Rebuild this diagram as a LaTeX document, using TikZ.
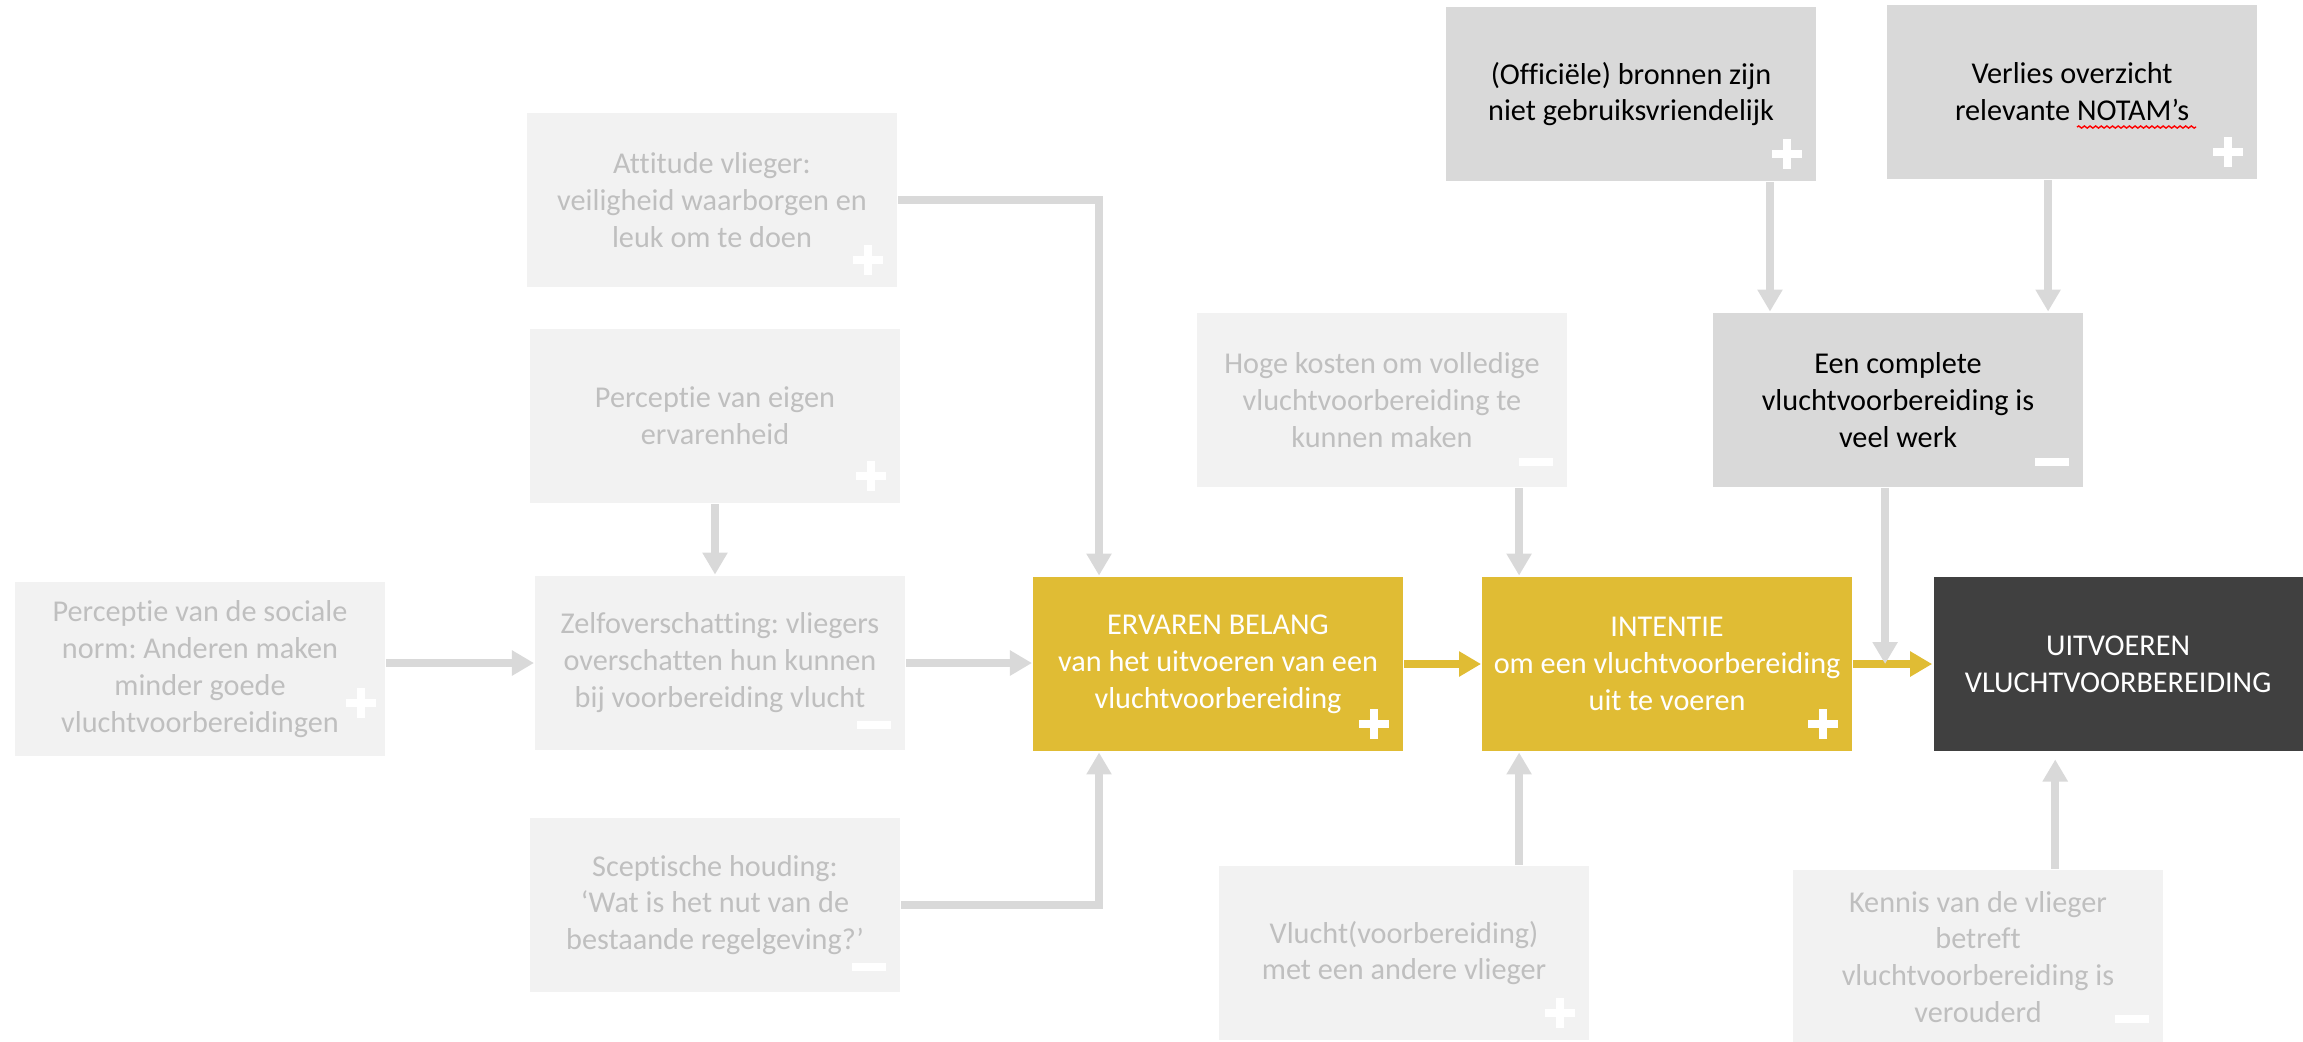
\documentclass[tikz,border=0pt]{standalone}
\usepackage{fontspec}
\setmainfont{Carlito}[Ligatures={TeX,NoCommon}]
\usetikzlibrary{arrows.meta, positioning, decorations.pathmorphing}
\frenchspacing

\definecolor{boxlight}{HTML}{F2F2F2}
\definecolor{textlight}{HTML}{BFBFBF}
\definecolor{boxgrey}{HTML}{D9D9D9}
\definecolor{gold}{HTML}{E0BC34}
\definecolor{darkbox}{HTML}{404040}

% white + and - marks in the lower right corner of a box
\newcommand{\plusmark}[2][-30,-28]{\draw[sign mark] (#2.south east) ++(#1) +(-15,0) -- +(15,0) +(0,-15) -- +(0,15);}
\newcommand{\minmark}[2][-32,-26]{\draw[sign mark] (#2.south east) ++(#1) +(-17,0) -- +(17,0);}

\begin{document}
\begin{tikzpicture}[x=0.01cm, y=-0.01cm, thick,
    base node/.style={rectangle,
      minimum width=3.69cm,
      minimum height=1.74cm,
      inner sep=0pt,
      align=center,
      font=\fontsize{8.6}{10.5}\selectfont},
    light node/.style={base node, fill=boxlight, text=textlight},
    grey node/.style={base node, fill=boxgrey, text=black},
    gold node/.style={base node, fill=gold, text=white},
    dark node/.style={base node, fill=darkbox, text=white},
    grey arrow/.style={draw=boxgrey, line width=0.08cm,
      -{Triangle[length=0.22cm, width=0.24cm]}},
    gold arrow/.style={grey arrow, draw=gold},
    sign mark/.style={draw=white, line width=0.08cm},
    squiggle/.style={draw=red, line width=0.4pt, decorate,
      decoration={snake, amplitude=0.3pt, segment length=1.6pt}}]

  \useasboundingbox (0,0) rectangle (2303,1041);

  % factors on the left
  \node[light node] (1) at (712,200) {Attitude vlieger:\\veiligheid waarborgen en\\leuk om te doen};
  \node[light node] (2) at (715,416) {Perceptie van eigen\\ervarenheid};
  \node[light node] (3) at (720,663) {Zelfoverschatting: vliegers\\overschatten hun kunnen\\bij voorbereiding vlucht};
  \node[light node] (4) at (200,669) {Perceptie van de sociale\\norm: Anderen maken\\minder goede\\vluchtvoorbereidingen};
  \node[light node] (5) at (715,905) {Sceptische houding:\\‘Wat is het nut van de\\bestaande regelgeving?’};

  % main chain
  \node[gold node] (6) at (1218,664) {ERVAREN BELANG\\van het uitvoeren van een\\vluchtvoorbereiding};
  \node[gold node] (7) [right=0.77cm of 6] {INTENTIE\\om een vluchtvoorbereiding\\uit te voeren};
  \node[dark node] (8) [right=0.79cm of 7] {UITVOEREN\\VLUCHTVOORBEREIDING};

  % factors above and below
  \node[light node] (9) at (1404,953) {Vlucht(voorbereiding)\\met een andere vlieger};
  \node[light node] (10) at (1978,957) {Kennis van de vlieger\\betreft\\vluchtvoorbereiding is\\verouderd};
  \node[light node] (11) at (1382,400) {Hoge kosten om volledige\\vluchtvoorbereiding te\\kunnen maken};
  \node[grey node] (12) at (1898,400) {Een complete\\vluchtvoorbereiding is\\veel werk};
  \node[grey node] (13) at (1631,94) {(Officiële) bronnen zijn\\niet gebruiksvriendelijk};
  \node[grey node] (14) at (2072,92) {Verlies overzicht\\relevante NOTAM’s};

  \coordinate (a6) at ([xshift=0.67cm]6.north west);
  \coordinate (b6) at ([xshift=0.67cm]6.south west);
  \coordinate (a7) at ([xshift=0.38cm]7.north west);
  \coordinate (b7) at ([xshift=0.38cm]7.south west);
  \coordinate (b8) at ([xshift=1.23cm]8.south west);
  \coordinate (c12) at ([xshift=1.73cm]12.south west);
  \coordinate (c13) at ([xshift=-0.47cm]13.south east);
  \coordinate (c14) at ([xshift=1.62cm]14.south west);

  \draw[grey arrow] (1.east) -| (a6);
  \draw[grey arrow] (5.east) -| (b6);
  \draw[grey arrow] (2.south) -- (2.south |- 3.north);
  \draw[grey arrow] (4.east |- 3.west) -- (3.west);
  \draw[grey arrow] (3.east) -- (3.east -| 6.west);
  \draw[gold arrow] (6) -- (7);
  \draw[gold arrow] (7) -- (8);
  \draw[grey arrow] (11.south -| a7) -- (a7);
  \draw[grey arrow] (9.north -| b7) -- (b7);
  \draw[grey arrow] (c13) -- (12.north -| c13);
  \draw[grey arrow] (c14) -- (12.north -| c14);
  \draw[grey arrow] (c12) -- (c12 |- 7.east);
  \draw[grey arrow, shorten >=0.07cm] (10.north -| b8) -- (b8);

  \plusmark{1} \plusmark{2} \minmark{3} \plusmark[-25,-54]{4} \minmark{5}
  \plusmark{6} \plusmark{7} \plusmark{9} \minmark{10} \minmark{11}
  \minmark{12} \plusmark{13} \plusmark{14}

  \draw[squiggle] ([shift={(0.05cm,-0.35cm)}]14.center) -- ([shift={(1.24cm,-0.35cm)}]14.center);
\end{tikzpicture}
\end{document}
